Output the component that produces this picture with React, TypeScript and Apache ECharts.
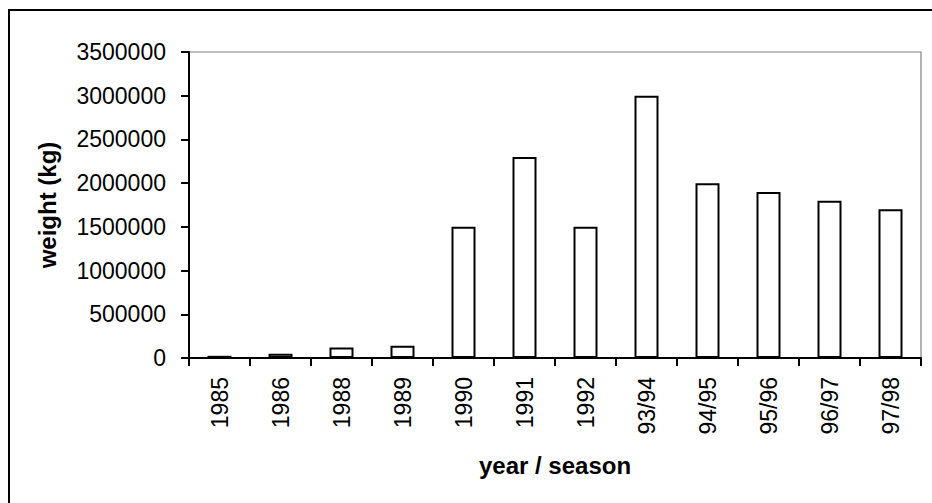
import React, { useEffect, useRef } from "react";
import * as echarts from "echarts";

const categories = ["1985", "1986", "1988", "1989", "1990", "1991", "1992", "93/94", "94/95", "95/96", "96/97", "97/98"];
const weights = [25000, 50000, 120000, 140000, 1500000, 2300000, 1500000, 3000000, 2000000, 1900000, 1800000, 1700000];
const yTitle = "weight (kg)";
const xTitle = "year / season";

export default function App() {
  const ref = useRef<HTMLDivElement>(null);
  useEffect(() => {
    if (!ref.current) return;
    const chart = echarts.init(ref.current, null, { renderer: "svg" });
    const font = "'Liberation Sans', Arial, sans-serif";
    chart.setOption({
      animation: false,
      backgroundColor: "#ffffff",
      textStyle: { fontFamily: font },
      graphic: [
        {
          type: "rect",
          shape: { x: 9, y: 10, width: 960, height: 520 },
          style: { fill: "none", stroke: "#000", lineWidth: 2 },
          silent: true,
        },
      ],
      grid: {
        left: 189,
        top: 52,
        right: 11,
        bottom: 145,
        containLabel: false,
        show: true,
        borderColor: "#808080",
        borderWidth: 1.2,
        backgroundColor: "transparent",
      },
      xAxis: {
        type: "category",
        data: categories,
        name: xTitle,
        nameLocation: "middle",
        nameGap: 95,
        nameTextStyle: { fontFamily: font, fontSize: 24, fontWeight: "bold", color: "#000" },
        axisLine: { show: true, lineStyle: { color: "#000", width: 2 } },
        axisTick: { show: true, length: 8, lineStyle: { color: "#000", width: 2 } },
        axisLabel: { rotate: 90, fontFamily: font, fontSize: 23, color: "#000", margin: 19, interval: 0 },
        splitLine: { show: false },
      },
      yAxis: {
        type: "value",
        min: 0,
        max: 3500000,
        interval: 500000,
        name: yTitle,
        nameLocation: "middle",
        nameGap: 130,
        nameRotate: 90,
        nameTextStyle: { fontFamily: font, fontSize: 24, fontWeight: "bold", color: "#000" },
        axisLine: { show: true, lineStyle: { color: "#000", width: 2 } },
        axisTick: { show: true, length: 8, inside: false, lineStyle: { color: "#000", width: 2 } },
        axisLabel: {
          fontFamily: font,
          fontSize: 23,
          color: "#000",
          margin: 23,
          formatter: (v: number) => String(v),
        },
        splitLine: { show: false },
      },
      series: [
        {
          type: "bar",
          data: weights,
          barWidth: 24,
          itemStyle: { color: "#fff", borderColor: "#000", borderWidth: 2 },
        },
      ],
    });
    return () => chart.dispose();
  }, []);
  return <div ref={ref} style={{ width: 932, height: 503, position: "absolute", left: 0, top: 0 }} />;
}
